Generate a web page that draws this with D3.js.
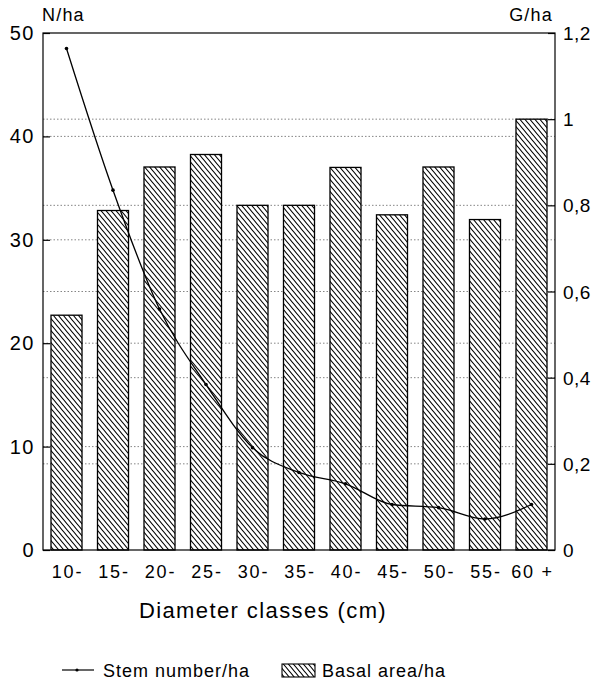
<!DOCTYPE html>
<html>
<head>
<meta charset="utf-8">
<script src="https://cdn.jsdelivr.net/npm/d3@7"></script>
<style>
  body { margin: 0; background: #fff; }
  text { font-family: "Liberation Sans", Arial, sans-serif; fill: #000; }
</style>
</head>
<body>
<script>
const classes = ['10-', '15-', '20-', '25-', '30-', '35-', '40-', '45-', '50-', '55-', '60 +']
const stemNumber = [48.5, 34.8, 23.3, 16.0, 9.9, 7.5, 6.4, 4.4, 4.1, 3.0, 4.4]
const basalArea = [0.545, 0.788, 0.889, 0.918, 0.80, 0.80, 0.888, 0.778, 0.889, 0.767, 1.0]
const leftTicks = [0, 10, 20, 30, 40, 50]
const rightTicks = [0, 0.2, 0.4, 0.6, 0.8, 1, 1.2]

const m = { top: 33, right: 40, bottom: 133, left: 43 }
const width = 595, height = 683
const w = width - m.left - m.right
const h = height - m.top - m.bottom

const svg = d3.select('body').append('svg')
    .attr('width', width)
    .attr('height', height)

const defs = svg.append('defs')
defs.append('pattern')
    .attr('id', 'hatch')
    .attr('patternUnits', 'userSpaceOnUse')
    .attr('width', 5)
    .attr('height', 6)
    .append('path')
    .attr('d', 'M-5,-6L10,12M0,-6L15,12M-10,-6L5,12')
    .attr('stroke', '#000')
    .attr('stroke-width', 1.1)

const g = svg.append('g')
    .attr('transform', `translate(${m.left},${m.top})`)

const x = d3.scaleBand()
    .domain(classes)
    .range([0, w])
    .paddingInner(0.333)
    .paddingOuter(0.172)

const yN = d3.scaleLinear().domain([0, 50]).range([h, 0])
const yG = d3.scaleLinear().domain([0, 1.2]).range([h, 0])

// dotted grid lines for both axes
g.selectAll('.gridN')
    .data(leftTicks.slice(1, -1))
    .enter()
    .append('line')
    .attr('x1', 0).attr('x2', w)
    .attr('y1', d => yN(d)).attr('y2', d => yN(d))
    .attr('stroke', '#666')
    .attr('stroke-width', 0.8)
    .attr('stroke-dasharray', '1.5,2')

g.selectAll('.gridG')
    .data(rightTicks.slice(1, -1))
    .enter()
    .append('line')
    .attr('x1', 0).attr('x2', w)
    .attr('y1', d => yG(d)).attr('y2', d => yG(d))
    .attr('stroke', '#666')
    .attr('stroke-width', 0.8)
    .attr('stroke-dasharray', '1.5,2')

// bars
g.selectAll('.bar')
    .data(basalArea)
    .enter()
    .append('rect')
    .attr('x', (d, i) => x(classes[i]))
    .attr('y', d => yG(d))
    .attr('width', x.bandwidth())
    .attr('height', d => h - yG(d))
    .attr('fill', '#fff')
    .attr('stroke', 'none')

g.selectAll('.barh')
    .data(basalArea)
    .enter()
    .append('rect')
    .attr('x', (d, i) => x(classes[i]))
    .attr('y', d => yG(d))
    .attr('width', x.bandwidth())
    .attr('height', d => h - yG(d))
    .attr('fill', 'url(#hatch)')
    .attr('stroke', '#000')
    .attr('stroke-width', 1.3)

// frame
g.append('rect')
    .attr('width', w)
    .attr('height', h)
    .attr('fill', 'none')
    .attr('stroke', '#000')
    .attr('stroke-width', 1.2)

// inward ticks
const leftAxis = d3.axisLeft(yN).tickValues(leftTicks).tickSize(-7).tickFormat('')
const rightAxis = d3.axisRight(yG).tickValues(rightTicks).tickSize(-7).tickFormat('')
g.append('g').call(leftAxis).call(s => s.select('.domain').remove())
g.append('g').attr('transform', `translate(${w},0)`).call(rightAxis).call(s => s.select('.domain').remove())
g.selectAll('.tick line').attr('stroke', '#000').attr('stroke-width', 1.2)

// tick labels
g.selectAll('.lblN')
    .data(leftTicks)
    .enter()
    .append('text')
    .attr('x', -8)
    .attr('y', d => yN(d) + 7)
    .attr('text-anchor', 'end')
    .attr('font-size', 20)
    .attr('letter-spacing', 1.5)
    .text(d => d)

g.selectAll('.lblG')
    .data(rightTicks)
    .enter()
    .append('text')
    .attr('x', w + 8)
    .attr('y', d => yG(d) + 7)
    .attr('font-size', 19)
    .attr('letter-spacing', 0.5)
    .text(d => String(d).replace('.', ','))

g.selectAll('.lblX')
    .data(classes)
    .enter()
    .append('text')
    .attr('x', d => x(d) + x.bandwidth() / 2 + 1)
    .attr('y', h + 28)
    .attr('text-anchor', 'middle')
    .attr('font-size', 18)
    .attr('letter-spacing', 1.8)
    .text(d => d)

svg.append('text')
    .attr('x', 42).attr('y', 21)
    .attr('font-size', 18)
    .attr('letter-spacing', 1.2)
    .text('N/ha')

svg.append('text')
    .attr('x', 553).attr('y', 21)
    .attr('text-anchor', 'end')
    .attr('font-size', 18)
    .attr('letter-spacing', 1.2)
    .text('G/ha')

svg.append('text')
    .attr('x', 263).attr('y', 618)
    .attr('text-anchor', 'middle')
    .attr('font-size', 22)
    .attr('letter-spacing', 1.4)
    .text('Diameter classes (cm)')

// stem number line
const line = d3.line()
    .x((d, i) => x(classes[i]) + x.bandwidth() / 2)
    .y(d => yN(d))
    .curve(d3.curveMonotoneX)

g.append('path')
    .datum(stemNumber)
    .attr('d', line)
    .attr('fill', 'none')
    .attr('stroke', '#000')
    .attr('stroke-width', 1.3)

g.selectAll('.pt')
    .data(stemNumber)
    .enter()
    .append('circle')
    .attr('cx', (d, i) => x(classes[i]) + x.bandwidth() / 2)
    .attr('cy', d => yN(d))
    .attr('r', 1.8)
    .attr('fill', '#000')

// legend
const lg = svg.append('g')
lg.append('line')
    .attr('x1', 62).attr('x2', 94)
    .attr('y1', 670).attr('y2', 670)
    .attr('stroke', '#000').attr('stroke-width', 1.2)
lg.append('circle').attr('cx', 77).attr('cy', 670).attr('r', 1.6).attr('fill', '#000')
lg.append('text')
    .attr('x', 103).attr('y', 677)
    .attr('font-size', 18)
    .attr('letter-spacing', 1)
    .text('Stem number/ha')
lg.append('rect')
    .attr('x', 282).attr('y', 664)
    .attr('width', 33).attr('height', 13)
    .attr('fill', 'url(#hatch)')
    .attr('stroke', '#000').attr('stroke-width', 1.1)
lg.append('text')
    .attr('x', 322).attr('y', 677)
    .attr('font-size', 18)
    .attr('letter-spacing', 1)
    .text('Basal area/ha')
</script>
</body>
</html>
